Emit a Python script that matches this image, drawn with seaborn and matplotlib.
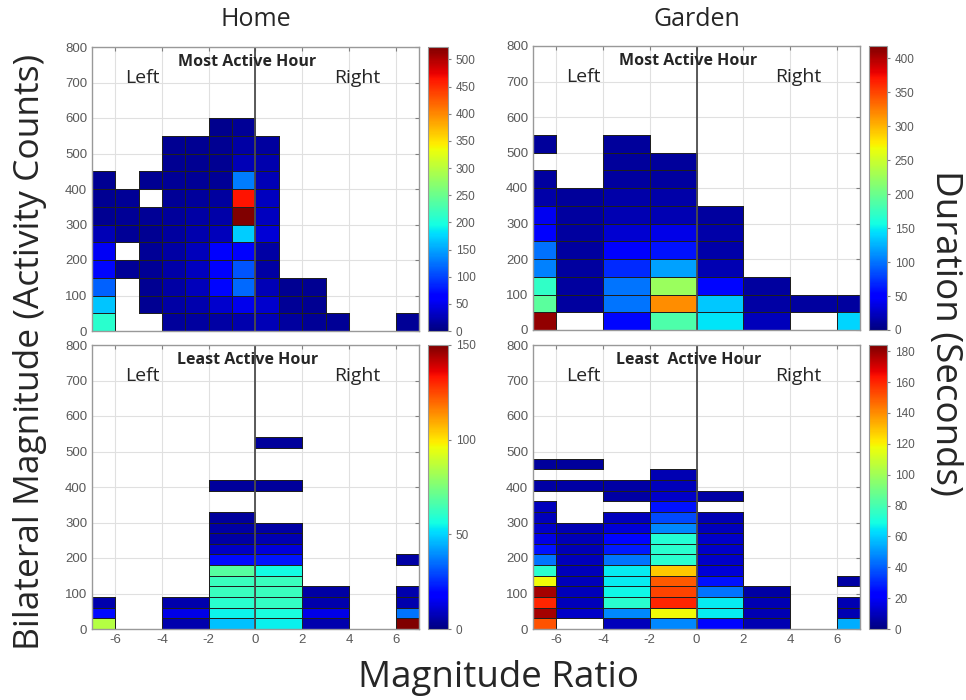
import numpy as np
import pandas as pd
import seaborn as sns
import matplotlib
matplotlib.use("Agg")
import matplotlib.pyplot as plt

# bin edges (magnitude ratio on x, bilateral magnitude on y)
home_most_xedges = np.arange(-7, 8, 1)
home_most_ystep = 50
garden_xedges = np.array([-7, -6, -4, -2, 0, 2, 4, 6, 7])
least_ystep = 30

# duration per cell, one list per x bin, listed from the bottom row up (0 = empty)
home_most = [
    [210, 167, 115, 68, 55, 26, 10, 10, 10],
    [0, 0, 0, 12, 0, 12, 12, 12],
    [0, 10, 10, 12, 12, 10, 12, 0, 10],
    [14, 18, 18, 20, 18, 15, 14, 12, 12, 10, 10],
    [16, 22, 28, 30, 28, 22, 18, 14, 12, 10, 10],
    [18, 35, 68, 62, 58, 28, 20, 15, 12, 10, 10, 8],
    [22, 50, 120, 110, 65, 170, 523, 465, 130, 25, 18, 12],
    [25, 35, 25, 18, 18, 40, 30, 30, 25, 22, 15],
    [15, 12, 10],
    [12, 10, 10],
    [12],
    [],
    [],
    [12],
]

garden_most = [
    [410, 192, 170, 105, 98, 52, 42, 15, 12, 0, 10],
    [0, 12, 12, 12, 12, 12, 12, 10],
    [55, 100, 100, 70, 50, 30, 18, 15, 12, 10, 10],
    [185, 318, 225, 118, 60, 38, 18, 15, 12, 10],
    [146, 135, 55, 18, 15, 15, 12],
    [22, 14, 12],
    [0, 12],
    [140, 12],
]

home_least = [
    [85, 20, 6],
    [],
    [6, 14, 6],
    [47, 55, 60, 63, 63, 68, 20, 9, 5, 5, 4, 0, 0, 4],
    [54, 57, 62, 63, 63, 56, 22, 12, 7, 5, 0, 0, 0, 4, 0, 0, 0, 4],
    [6, 14, 6, 5],
    [],
    [150, 36, 6, 6, 0, 0, 5],
]

garden_least = [
    [151, 178, 160, 178, 118, 74, 44, 26, 16, 12, 10, 10, 0, 6, 0, 5],
    [0, 12, 10, 10, 10, 10, 10, 9, 9, 8, 0, 0, 0, 6, 0, 5],
    [10, 48, 74, 68, 66, 66, 44, 28, 24, 14, 10, 0, 6, 6],
    [48, 118, 160, 154, 150, 128, 74, 74, 72, 48, 36, 26, 12, 10, 8],
    [24, 66, 66, 44, 26, 14, 12, 12, 12, 10, 8, 0, 6],
    [8, 8, 8, 6],
    [],
    [54, 8, 8, 0, 6],
]

panels = [
    ("Most Active Hour", home_most, home_most_xedges, home_most_ystep, 523, np.arange(0, 501, 50)),
    ("Most Active Hour", garden_most, garden_xedges, home_most_ystep, 418, np.arange(0, 401, 50)),
    ("Least Active Hour", home_least, garden_xedges, least_ystep, 150, np.arange(0, 151, 50)),
    ("Least  Active Hour", garden_least, garden_xedges, least_ystep, 184, np.arange(0, 181, 20)),
]


def to_long(cols, xedges, ystep):
    rows = []
    for i, col in enumerate(cols):
        xc = (xedges[i] + xedges[i + 1]) / 2
        for j, v in enumerate(col):
            if v > 0:
                rows.append({"ratio": xc, "magnitude": (j + 0.5) * ystep, "duration": v})
    return pd.DataFrame(rows)


sns.set_style("whitegrid")
plt.rcParams["font.family"] = ["Liberation Sans", "DejaVu Sans"]
plt.rcParams["axes.unicode_minus"] = False

fig = plt.figure(figsize=(9.66, 7), dpi=100)
W, H = 966, 700
ax_boxes = [(92, 47, 419, 331), (533, 46, 860, 330), (92, 345, 419, 629), (533, 345, 860, 629)]
cb_boxes = [(428, 448), (869, 887), (428, 448), (869, 887)]
jet = matplotlib.colormaps["jet"]
big = ["Open Sans", "DejaVu Sans"]

for k, (label, cols, xedges, ystep, vmax, cticks) in enumerate(panels):
    x0, y0, x1, y1 = ax_boxes[k]
    ax = fig.add_axes([x0 / W, 1 - y1 / H, (x1 - x0) / W, (y1 - y0) / H])
    c0, c1 = cb_boxes[k]
    cax = fig.add_axes([c0 / W, 1 - y1 / H, (c1 - c0) / W, (y1 - y0) / H])

    df = to_long(cols, xedges, ystep)
    yedges = np.arange(0, 800 + ystep, ystep)
    sns.histplot(data=df, x="ratio", y="magnitude", weights="duration",
                 bins=[xedges, yedges], cmap=jet, vmin=0, vmax=vmax,
                 cbar=True, cbar_ax=cax, cbar_kws={"ticks": cticks}, ax=ax)

    # outline only the filled cells
    mesh = ax.collections[-1]
    empty = np.ma.getmaskarray(mesh.get_array()).ravel()
    ec = np.zeros((empty.size, 4))
    ec[~empty] = (0.12, 0.12, 0.12, 1)
    mesh.set_edgecolor(ec)
    mesh.set_linewidth(0.6)

    ax.axvline(0, color="0.3", lw=1.3)
    ax.set_xlim(-7, 7)
    ax.set_ylim(0, 800)
    ax.set_xticks([-6, -4, -2, 0, 2, 4, 6])
    ax.set_yticks(np.arange(0, 801, 100))
    ax.set_xlabel("")
    ax.set_ylabel("")
    ax.grid(True, color="0.88", lw=0.8)
    ax.tick_params(direction="in", top=True, right=True, length=3,
                   labelsize=9.5, labelcolor="0.35", color="0.5")
    if k < 2:
        ax.tick_params(labelbottom=False)
    for s in ax.spines.values():
        s.set_color("0.6")
        s.set_linewidth(1)

    ax.text(-0.35, 758, label, ha="center", va="center", fontsize=11.5,
            fontweight="bold", family=big)
    ax.text(-4.85, 713, "Left", ha="center", va="center", fontsize=14,
            family=big, color="0.15")
    ax.text(4.35, 713, "Right", ha="center", va="center", fontsize=14,
            family=big, color="0.15")

    cax.tick_params(labelsize=8.5, labelcolor="0.35", length=2, color="0.5")
    cax.set_ylim(0, vmax)
    for s in cax.spines.values():
        s.set_color("0.6")

fig.text(256 / W, 1 - 20 / H, "Home", ha="center", va="center", fontsize=18, family=big)
fig.text(697 / W, 1 - 20 / H, "Garden", ha="center", va="center", fontsize=18, family=big)
fig.text(30 / W, 1 - 352 / H, "Bilateral Magnitude (Activity Counts)", ha="center",
         va="center", rotation=90, fontsize=25.5, family=big)
fig.text(945 / W, 1 - 333 / H, "Duration (Seconds)", ha="center", va="center",
         rotation=-90, fontsize=26.5, family=big)
fig.text(498 / W, 1 - 678 / H, "Magnitude Ratio", ha="center", va="center",
         fontsize=26.5, family=big)

fig.savefig("out.png", dpi=100)
